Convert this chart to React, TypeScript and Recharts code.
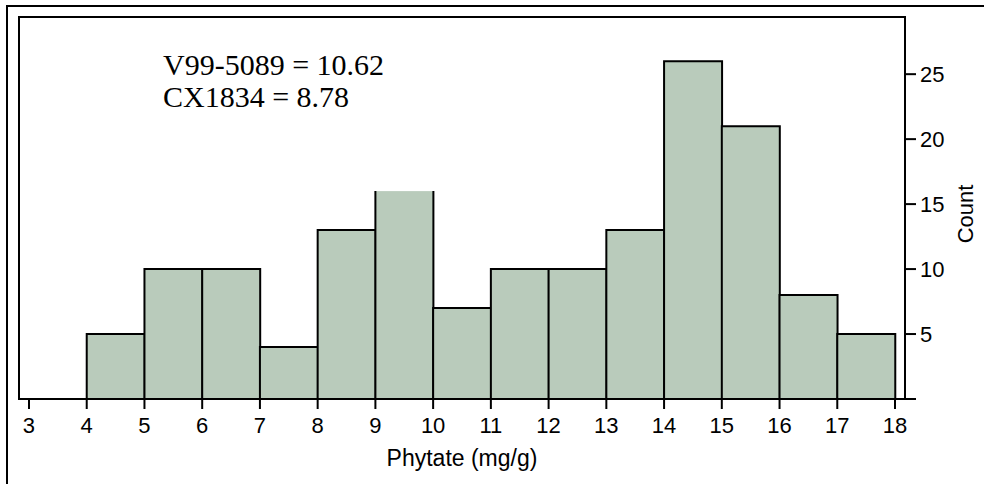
import React from 'react';
import { BarChart, Bar, XAxis, YAxis } from 'recharts';

// histogram bins (lower edge) and counts
const binStarts = [4, 5, 6, 7, 8, 9, 10, 11, 12, 13, 14, 15, 16, 17];
const counts = [5, 10, 10, 4, 13, 16, 7, 10, 10, 13, 26, 21, 8, 5];
const xTicks = [3, 4, 5, 6, 7, 8, 9, 10, 11, 12, 13, 14, 15, 16, 17, 18];
const yTicks = [0, 5, 10, 15, 20, 25];
const notes = ['V99-5089 = 10.62', 'CX1834 = 8.78'];

const data = binStarts.map((s, i) => ({ mid: s + 0.5, count: counts[i] }));

const FILL = '#b9cbbb';
const SANS = '"Liberation Sans", Arial, sans-serif';
const SERIF = '"Liberation Serif", "Times New Roman", serif';

// bar with left/right/top outline; the 9-10 bin has no top edge in the original
function HistBar(props: any) {
  const { x, y, width, height, index } = props;
  const d =
    index === 5
      ? `M${x},${y + height}L${x},${y}M${x + width},${y}L${x + width},${y + height}`
      : `M${x},${y + height}L${x},${y}L${x + width},${y}L${x + width},${y + height}`;
  return (
    <g>
      <rect x={x} y={y} width={width} height={height} fill={FILL} />
      <path d={d} stroke="#000" strokeWidth={2} fill="none" />
    </g>
  );
}

function CountLabel({ viewBox }: any) {
  const cx = viewBox.x + 60;
  const cy = viewBox.y + viewBox.height / 2 + 6;
  return (
    <text
      x={cx}
      y={cy}
      textAnchor="middle"
      dominantBaseline="central"
      transform={`rotate(-90, ${cx}, ${cy})`}
      fontFamily={SANS}
      fontSize={22}
      fill="#000"
    >
      Count
    </text>
  );
}

export default function App() {
  return (
    <div
      style={{
        position: 'absolute',
        left: 0,
        top: 0,
        width: 984,
        height: 484,
        overflow: 'hidden',
        background: '#fff',
      }}
    >
      {/* outer page frame, only left/top edges show */}
      <div
        style={{
          position: 'absolute',
          left: 6,
          top: 5,
          width: 1000,
          height: 500,
          borderLeft: '2px solid #000',
          borderTop: '2px solid #000',
        }}
      />
      <div style={{ position: 'absolute', left: 0, top: 0 }}>
        <BarChart
          width={984}
          height={484}
          data={data}
          margin={{ top: 17, right: 0, bottom: 15, left: 19 }}
          barCategoryGap={0}
          barGap={0}
        >
          <XAxis
            dataKey="mid"
            type="number"
            domain={[2.827, 18.173]}
            ticks={xTicks}
            interval={0}
            allowDataOverflow
            height={70}
            tickSize={10}
            tickMargin={8}
            axisLine={{ stroke: '#000', strokeWidth: 2 }}
            tickLine={{ stroke: '#000', strokeWidth: 2 }}
            tick={{ fill: '#000', fontSize: 22, fontFamily: SANS }}
            label={{
              value: 'Phytate (mg/g)',
              position: 'insideBottom',
              offset: 3,
              fill: '#000',
              fontSize: 23,
              fontFamily: SANS,
            }}
          />
          <YAxis
            orientation="right"
            width={79}
            domain={[0, 29.4]}
            allowDataOverflow
            ticks={yTicks}
            interval={0}
            tickSize={11}
            tickMargin={4}
            tickFormatter={(v: number) => (v === 0 ? '' : String(v))}
            axisLine={{ stroke: '#000', strokeWidth: 2 }}
            tickLine={{ stroke: '#000', strokeWidth: 2 }}
            tick={{ fill: '#000', fontSize: 22, fontFamily: SANS }}
            label={<CountLabel />}
          />
          <Bar dataKey="count" shape={<HistBar />} isAnimationActive={false} />
        </BarChart>
      </div>
      {/* plot frame: left and top edges */}
      <div
        style={{
          position: 'absolute',
          left: 18,
          top: 16,
          width: 886,
          height: 382,
          borderLeft: '2px solid #000',
          borderTop: '2px solid #000',
          pointerEvents: 'none',
        }}
      />
      {notes.map((t, i) => (
        <div
          key={t}
          style={{
            position: 'absolute',
            left: 163,
            top: 49 + i * 32,
            fontFamily: SERIF,
            fontSize: 30,
            lineHeight: '32px',
            color: '#000',
            whiteSpace: 'nowrap',
          }}
        >
          {t}
        </div>
      ))}
    </div>
  );
}
